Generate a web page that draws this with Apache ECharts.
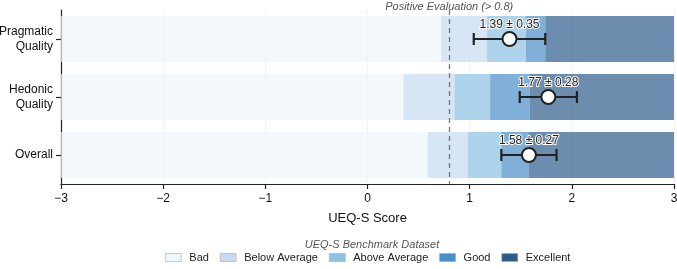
<!DOCTYPE html>
<html>
<head>
<meta charset="utf-8">
<script src="https://cdn.jsdelivr.net/npm/echarts@6/dist/echarts.min.js"></script>
<style>
  html, body { margin: 0; padding: 0; background: #fff; }
  #chart { width: 677px; height: 269px; }
</style>
</head>
<body>
<div id="chart"></div>
<script>
const categories = ['Pragmatic\nQuality', 'Hedonic\nQuality', 'Overall'];
const levels = ['Bad', 'Below Average', 'Above Average', 'Good', 'Excellent'];
const levelColors = ['#eef5fb', '#c6dbef', '#8cc2e4', '#4a8fc6', '#2d5c8c'];
// benchmark borders per scale (bad|below|above|good|excellent)
const pragmaticBounds = [0.72, 1.17, 1.55, 1.74];
const hedonicBounds = [0.35, 0.85, 1.2, 1.59];
const overallBounds = [0.59, 0.98, 1.31, 1.58];
const means = [1.39, 1.77, 1.58];
const errors = [0.35, 0.28, 0.27];
const threshold = 0.8;
const xTicks = [-3, -2, -1, 0, 1, 2, 3];

const bounds = [pragmaticBounds, hedonicBounds, overallBounds];
const font = 'Liberation Sans, Arial, sans-serif';

const chart = echarts.init(document.getElementById('chart'));

let levelSeries = levels.map(function (name, i) {
  let data = categories.map(function (c, k) {
    let lo = i == 0 ? xTicks[0] : bounds[k][i - 1];
    let hi = i == levels.length - 1 ? xTicks[xTicks.length - 1] : bounds[k][i];
    return [k, lo, hi];
  });
  return {
    name: name,
    type: 'custom',
    itemStyle: { color: levelColors[i] },
    encode: { x: [1, 2], y: 0 },
    renderItem: function (params, api) {
      let a = api.coord([api.value(1), api.value(0)]);
      let b = api.coord([api.value(2), api.value(0)]);
      let h = api.size([0, 1])[1] * 0.79;
      return {
        type: 'rect',
        shape: { x: a[0], y: a[1] - h / 2, width: b[0] - a[0], height: h },
        style: { fill: levelColors[i], opacity: 0.7 }
      };
    },
    data: data,
    z: 2
  };
});

// error bars + text
let errData = means.map(function (m, k) { return [k, m - errors[k], m + errors[k], m, errors[k]]; });

let errSeries = {
  name: 'err',
  type: 'custom',
  encode: { x: [1, 2], y: 0 },
  renderItem: function (params, api) {
    let a = api.coord([api.value(1), api.value(0)]);
    let b = api.coord([api.value(2), api.value(0)]);
    let m = api.coord([api.value(3), api.value(0)]);
    let cap = 6;
    let st = { stroke: '#222', lineWidth: 2.2 };
    return {
      type: 'group',
      children: [
        { type: 'line', shape: { x1: a[0], y1: a[1], x2: b[0], y2: b[1] }, style: st },
        { type: 'line', shape: { x1: a[0], y1: a[1] - cap, x2: a[0], y2: a[1] + cap }, style: st },
        { type: 'line', shape: { x1: b[0], y1: b[1] - cap, x2: b[0], y2: b[1] + cap }, style: st },
        { type: 'circle', shape: { cx: m[0], cy: m[1], r: 7 }, style: { fill: '#fff', stroke: '#222', lineWidth: 2 } },
        {
          type: 'text',
          x: m[0], y: m[1] - 14,
          style: {
            text: api.value(3).toFixed(2) + ' ± ' + api.value(4).toFixed(2),
            fontFamily: font, fontSize: 12, fill: '#222',
            stroke: '#fff', lineWidth: 2,
            align: 'center', verticalAlign: 'middle'
          }
        }
      ]
    };
  },
  data: errData,
  z: 5,
  markLine: {
    silent: true,
    symbol: 'none',
    lineStyle: { color: '#777', type: [5, 4], width: 1.3 },
    label: {
      show: true, position: 'start', distance: -2,
      formatter: 'Positive Evaluation (> 0.8)',
      fontFamily: font, fontSize: 11, fontStyle: 'italic', color: '#555'
    },
    data: [{ xAxis: threshold }]
  }
};

let option = {
  animation: false,
  textStyle: { fontFamily: font },
  grid: { left: 61, right: 3, top: 10, height: 174, outerBoundsMode: 'none', containLabel: false },
  xAxis: {
    type: 'value',
    min: -3, max: 3, interval: 1,
    name: 'UEQ-S Score',
    nameLocation: 'middle',
    nameGap: 28,
    nameTextStyle: { fontSize: 13, color: '#111', fontFamily: font },
    axisLine: { show: true, onZero: false, lineStyle: { color: '#222', width: 1.2 } },
    axisTick: { show: true, length: 5, lineStyle: { color: '#222', width: 1.2 } },
    axisLabel: {
      margin: 9, fontSize: 12, color: '#111', fontFamily: font,
      formatter: function (v) { return v < 0 ? '\u2212' + Math.abs(v) : String(v); }
    },
    splitLine: { show: true, lineStyle: { color: '#e6e6e6', width: 1, type: 'dotted' } }
  },
  yAxis: {
    type: 'category',
    data: categories,
    inverse: true,
    axisLine: { show: true, onZero: false, lineStyle: { color: '#222', width: 1.2 } },
    axisTick: { show: true, length: 5, alignWithLabel: true, lineStyle: { color: '#222', width: 1.2 } },
    axisLabel: { margin: 8, fontSize: 12, color: '#111', align: 'right', lineHeight: 15, fontFamily: font },
    splitLine: { show: false }
  },
  title: {
    text: 'UEQ-S Benchmark Dataset',
    left: 367, top: 234, textAlign: 'center',
    textStyle: { fontFamily: font, fontSize: 11, fontStyle: 'italic', fontWeight: 'normal', color: '#555' }
  },
  legend: {
    data: levels,
    left: 165, top: 252, padding: 0,
    itemWidth: 16, itemHeight: 8, itemGap: 11,
    icon: 'rect',
    itemStyle: { borderColor: '#aaa', borderWidth: 0.6 },
    textStyle: { fontFamily: font, fontSize: 11, color: '#222', padding: [0, 0, 0, 3] }
  },
  series: levelSeries.concat([errSeries])
};

chart.setOption(option);
</script>
</body>
</html>
